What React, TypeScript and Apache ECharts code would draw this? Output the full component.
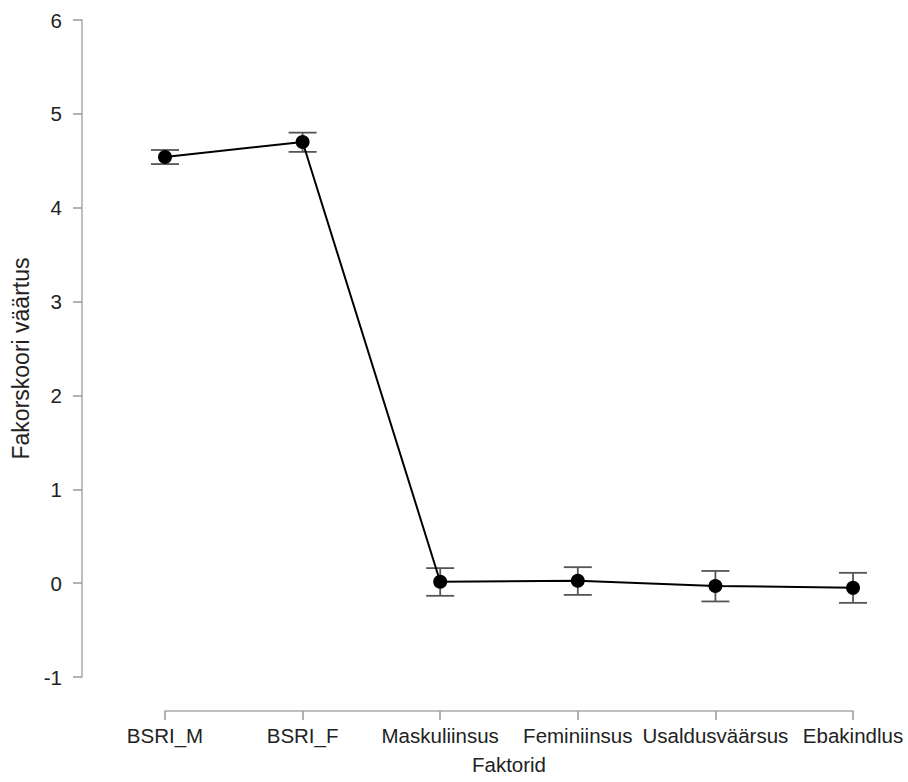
import React, { useEffect, useRef } from "react";
import * as echarts from "echarts";

const categories = ["BSRI_M", "BSRI_F", "Maskuliinsus", "Feminiinsus", "Usaldusväärsus", "Ebakindlus"];
const means = [4.54, 4.7, 0.015, 0.025, -0.03, -0.05];
const lower = [4.465, 4.595, -0.135, -0.125, -0.195, -0.21];
const upper = [4.615, 4.8, 0.16, 0.17, 0.13, 0.11];
const yTicks = [-1, 0, 1, 2, 3, 4, 5, 6];

export default function App() {
  const ref = useRef<HTMLDivElement>(null);
  useEffect(() => {
    if (!ref.current) return;
    const chart = echarts.init(ref.current, undefined, { renderer: "svg" });
    const font = "Liberation Sans, Arial, sans-serif";
    chart.setOption({
      animation: false,
      backgroundColor: "#ffffff",
      grid: { left: 165, right: 55, top: 20, bottom: 105, containLabel: false, outerBoundsMode: "none" },
      xAxis: {
        type: "category",
        data: categories,
        boundaryGap: false,
        offset: 34,
        name: "Faktorid",
        nameLocation: "middle",
        nameGap: 43,
        nameTextStyle: { fontFamily: font, fontSize: 20.5, color: "#222" },
        axisLine: { show: true, onZero: false, lineStyle: { color: "#aaaaaa", width: 1.5 } },
        axisTick: { show: true, inside: false, length: 9, alignWithLabel: true, lineStyle: { color: "#999999", width: 1.5 } },
        axisLabel: { fontFamily: font, fontSize: 20.5, color: "#222", margin: 14, interval: 0 },
        splitLine: { show: false },
      },
      yAxis: {
        type: "value",
        min: yTicks[0],
        max: yTicks[yTicks.length - 1],
        interval: 1,
        offset: 83,
        name: "Fakorskoori väärtus",
        nameLocation: "middle",
        nameGap: 49,
        nameRotate: 90,
        nameTextStyle: { fontFamily: font, fontSize: 23, color: "#222", padding: [0, 20, 0, 0] },
        axisLine: { show: true, onZero: false, lineStyle: { color: "#aaaaaa", width: 1.5 } },
        axisTick: { show: true, inside: false, length: 9, lineStyle: { color: "#999999", width: 1.5 } },
        axisLabel: { fontFamily: font, fontSize: 20.5, color: "#222", margin: 20 },
        splitLine: { show: false },
      },
      series: [
        {
          type: "custom",
          z: 1,
          data: categories.map((_, i) => [i, lower[i], upper[i]]),
          renderItem: (params: any, api: any) => {
            const x = api.value(0);
            const lo = api.coord([x, api.value(1)]);
            const hi = api.coord([x, api.value(2)]);
            const hw = 14;
            const style = { stroke: "#555555", lineWidth: 1.8 };
            return {
              type: "group",
              children: [
                { type: "line", shape: { x1: lo[0], y1: lo[1], x2: hi[0], y2: hi[1] }, style },
                { type: "line", shape: { x1: lo[0] - hw, y1: lo[1], x2: lo[0] + hw, y2: lo[1] }, style },
                { type: "line", shape: { x1: hi[0] - hw, y1: hi[1], x2: hi[0] + hw, y2: hi[1] }, style },
              ],
            };
          },
        },
        {
          type: "line",
          z: 2,
          data: means,
          symbol: "circle",
          symbolSize: 14,
          itemStyle: { color: "#000000" },
          lineStyle: { color: "#000000", width: 2 },
        },
      ],
    });
    return () => chart.dispose();
  }, []);
  return <div ref={ref} style={{ position: "absolute", left: 0, top: 0, width: 908, height: 782 }} />;
}
